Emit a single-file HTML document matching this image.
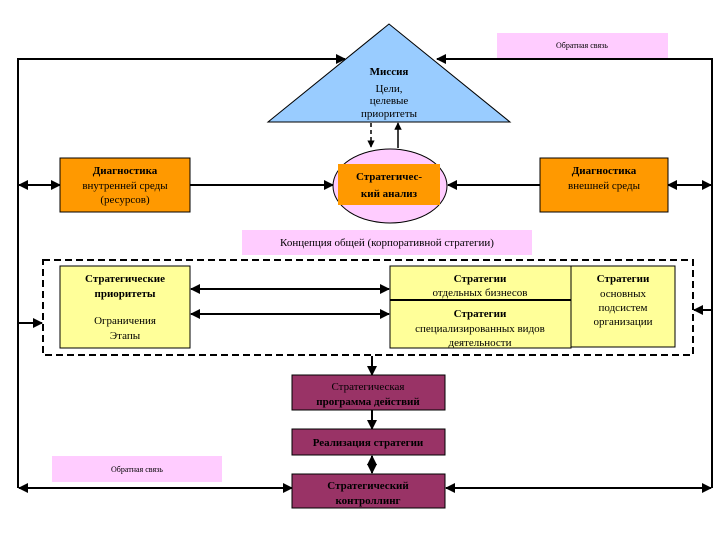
<!DOCTYPE html>
<html><head><meta charset="utf-8"><style>html,body{margin:0;padding:0;background:#fff}svg{display:block}text{font-family:"Liberation Serif",serif;fill:#000}</style></head>
<body>
<svg width="720" height="540" viewBox="0 0 720 540" xmlns="http://www.w3.org/2000/svg">
<defs>
<marker id="a" viewBox="0 0 10 10" refX="9" refY="5" markerWidth="5" markerHeight="5" orient="auto-start-reverse"><path d="M0,0L10,5L0,10z" fill="#000"/></marker>
</defs>
<g stroke="#000" stroke-width="2" fill="none">
<!-- outer feedback loop -->
<polyline points="345,59 18,59 18,488"/>
<polyline points="437,59 712,59 712,488"/>
<line x1="330" y1="59" x2="345" y2="59" marker-end="url(#a)"/>
<line x1="450" y1="59" x2="437" y2="59" marker-end="url(#a)"/>
<line x1="19" y1="185" x2="60" y2="185" marker-start="url(#a)" marker-end="url(#a)"/>
<line x1="668" y1="185" x2="711" y2="185" marker-start="url(#a)" marker-end="url(#a)"/>
<line x1="190" y1="185" x2="333" y2="185" marker-end="url(#a)"/>
<line x1="540" y1="185" x2="448" y2="185" marker-end="url(#a)"/>
<line x1="371" y1="123" x2="371" y2="147" stroke-dasharray="4,3" stroke-width="1.5" marker-end="url(#a)"/>
<line x1="398" y1="148" x2="398" y2="123" stroke-width="1.5" marker-end="url(#a)"/>
<line x1="191" y1="289" x2="389" y2="289" marker-start="url(#a)" marker-end="url(#a)"/>
<line x1="191" y1="314" x2="389" y2="314" marker-start="url(#a)" marker-end="url(#a)"/>
<line x1="18" y1="323" x2="42" y2="323" marker-end="url(#a)"/>
<line x1="712" y1="310" x2="694" y2="310" marker-end="url(#a)"/>
<line x1="372" y1="356" x2="372" y2="375" marker-end="url(#a)"/>
<line x1="372" y1="410" x2="372" y2="429" marker-end="url(#a)"/>
<line x1="372" y1="456" x2="372" y2="473" marker-start="url(#a)" marker-end="url(#a)"/>
<line x1="19" y1="488" x2="292" y2="488" marker-start="url(#a)" marker-end="url(#a)"/>
<line x1="446" y1="488" x2="711" y2="488" marker-start="url(#a)" marker-end="url(#a)"/>
</g>
<!-- pink labels -->
<rect x="497" y="33" width="171" height="25" fill="#ffccff"/>
<text x="582" y="48" font-size="8" text-anchor="middle">Обратная связь</text>
<rect x="242" y="230" width="290" height="25" fill="#ffccff"/>
<text x="387" y="246" font-size="11" text-anchor="middle">Концепция общей (корпоративной стратегии)</text>
<rect x="52" y="456" width="170" height="26" fill="#ffccff"/>
<text x="137" y="472" font-size="8" text-anchor="middle">Обратная связь</text>
<!-- triangle -->
<polygon points="389,24 268,122 510,122" fill="#99ccff" stroke="#000" stroke-width="1"/>
<text x="389" y="75" font-size="11" font-weight="bold" text-anchor="middle">Миссия</text>
<text x="389" y="92" font-size="11" text-anchor="middle">Цели,</text>
<text x="389" y="104" font-size="11" text-anchor="middle">целевые</text>
<text x="389" y="117" font-size="11" text-anchor="middle">приоритеты</text>
<!-- ellipse -->
<ellipse cx="390" cy="186" rx="57" ry="37" fill="#ffccff" stroke="#000" stroke-width="1"/>
<rect x="338" y="164" width="102" height="41" fill="#ff9900"/>
<text x="389" y="180" font-size="11" font-weight="bold" text-anchor="middle">Стратегичес-</text>
<text x="389" y="197" font-size="11" font-weight="bold" text-anchor="middle">кий анализ</text>
<!-- orange boxes -->
<rect x="60" y="158" width="130" height="54" fill="#ff9900" stroke="#000" stroke-width="1"/>
<text x="125" y="174" font-size="11" font-weight="bold" text-anchor="middle">Диагностика</text>
<text x="125" y="189" font-size="11" text-anchor="middle">внутренней среды</text>
<text x="125" y="203" font-size="11" text-anchor="middle">(ресурсов)</text>
<rect x="540" y="158" width="128" height="54" fill="#ff9900" stroke="#000" stroke-width="1"/>
<text x="604" y="174" font-size="11" font-weight="bold" text-anchor="middle">Диагностика</text>
<text x="604" y="189" font-size="11" text-anchor="middle">внешней среды</text>
<!-- dashed rect -->
<rect x="43" y="260" width="650" height="95" fill="none" stroke="#000" stroke-width="2" stroke-dasharray="7,4"/>
<!-- yellow boxes -->
<rect x="60" y="266" width="130" height="82" fill="#ffff99" stroke="#000" stroke-width="1"/>
<text x="125" y="282" font-size="11" font-weight="bold" text-anchor="middle">Стратегические</text>
<text x="125" y="297" font-size="11" font-weight="bold" text-anchor="middle">приоритеты</text>
<text x="125" y="324" font-size="11" text-anchor="middle">Ограничения</text>
<text x="125" y="339" font-size="11" text-anchor="middle">Этапы</text>
<rect x="390" y="266" width="181" height="34" fill="#ffff99" stroke="#000" stroke-width="1"/>
<text x="480" y="282" font-size="11" font-weight="bold" text-anchor="middle">Стратегии</text>
<text x="480" y="296" font-size="11" text-anchor="middle">отдельных бизнесов</text>
<rect x="390" y="300" width="181" height="48" fill="#ffff99" stroke="#000" stroke-width="1"/>
<line x1="390" y1="300" x2="571" y2="300" stroke="#000" stroke-width="2"/>
<text x="480" y="317" font-size="11" font-weight="bold" text-anchor="middle">Стратегии</text>
<text x="480" y="332" font-size="11" text-anchor="middle">специализированных видов</text>
<text x="480" y="346" font-size="11" text-anchor="middle">деятельности</text>
<rect x="571" y="266" width="104" height="81" fill="#ffff99" stroke="#000" stroke-width="1"/>
<text x="623" y="282" font-size="11" font-weight="bold" text-anchor="middle">Стратегии</text>
<text x="623" y="297" font-size="11" text-anchor="middle">основных</text>
<text x="623" y="311" font-size="11" text-anchor="middle">подсистем</text>
<text x="623" y="325" font-size="11" text-anchor="middle">организации</text>
<!-- purple boxes -->
<rect x="292" y="375" width="153" height="35" fill="#993366" stroke="#000" stroke-width="1"/>
<text x="368" y="390" font-size="11" text-anchor="middle">Стратегическая</text>
<text x="368" y="405" font-size="11" font-weight="bold" text-anchor="middle">программа действий</text>
<rect x="292" y="429" width="153" height="26" fill="#993366" stroke="#000" stroke-width="1"/>
<text x="368" y="446" font-size="11" font-weight="bold" text-anchor="middle">Реализация стратегии</text>
<rect x="292" y="474" width="153" height="34" fill="#993366" stroke="#000" stroke-width="1"/>
<text x="368" y="489" font-size="11" font-weight="bold" text-anchor="middle">Стратегический</text>
<text x="368" y="504" font-size="11" font-weight="bold" text-anchor="middle">контроллинг</text>
</svg>
</body></html>
